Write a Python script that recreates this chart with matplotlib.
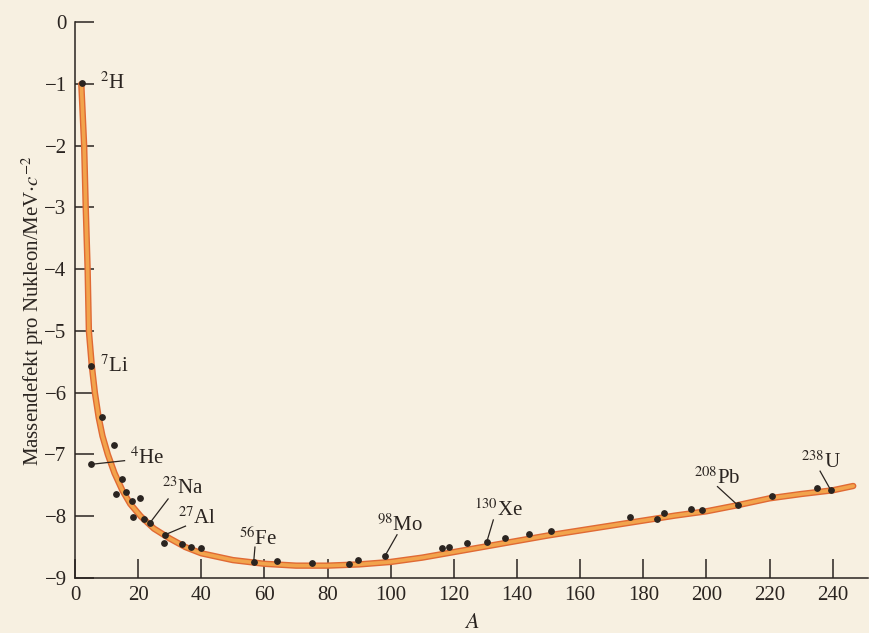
import matplotlib
matplotlib.use("Agg")
import matplotlib.pyplot as plt

plt.rcParams['font.family'] = ['Liberation Serif', 'DejaVu Serif']
plt.rcParams['mathtext.fontset'] = 'stix'

# Measured nuclides (A, mass defect per nucleon in MeV/c^2)
point_A = [2.2, 5.0, 8.5, 12.4, 5.0, 15.0, 12.9, 16.1, 18.0, 20.6, 18.4, 21.7, 23.7,
           28.5, 28.2, 34.0, 36.6, 40.0, 56.6, 63.9, 75.2, 86.8, 89.7, 98.1, 116.2,
           118.4, 124.2, 130.4, 136.2, 143.9, 150.7, 175.7, 184.5, 186.6, 195.0,
           198.5, 209.9, 220.8, 235.0, 239.3]
point_dm = [-0.99, -5.57, -6.40, -6.84, -7.16, -7.39, -7.64, -7.61, -7.75, -7.71, -8.02,
            -8.04, -8.11, -8.30, -8.43, -8.45, -8.50, -8.51, -8.74, -8.73, -8.76, -8.78,
            -8.71, -8.65, -8.51, -8.50, -8.43, -8.42, -8.35, -8.29, -8.24, -8.02, -8.04,
            -7.95, -7.89, -7.90, -7.82, -7.67, -7.55, -7.57]

# Smooth fitted curve
curve_A = [2.0, 2.9, 3.4, 4.0, 4.4, 5.3, 6.3, 7.5, 8.7, 10.4, 12.5, 15.0, 17.5, 20.8,
           25, 30, 35, 40, 50, 60, 70, 80, 90, 100, 110, 120, 130, 140, 150, 160,
           170, 180, 190, 200, 210, 220, 230, 240, 246.5]
curve_dm = [-1.0, -2.0, -3.0, -4.0, -5.0, -5.55, -6.0, -6.4, -6.7, -7.0, -7.3, -7.58,
            -7.8, -8.0, -8.2, -8.36, -8.5, -8.6, -8.71, -8.77, -8.80, -8.80, -8.78,
            -8.74, -8.67, -8.58, -8.49, -8.40, -8.31, -8.23, -8.15, -8.07, -7.99,
            -7.92, -7.82, -7.71, -7.64, -7.58, -7.51]

# Labelled nuclides: text, point (A, dm), text position (A, dm), leader line end (A, dm)
label_text = ['$^{2}$H', '$^{7}$Li', '$^{4}$He', '$^{23}$Na', '$^{27}$Al', '$^{56}$Fe',
              '$^{98}$Mo', '$^{130}$Xe', '$^{208}$Pb', '$^{238}$U']
label_pt_A = [2.2, 5.0, 5.0, 23.7, 28.5, 56.6, 98.1, 130.4, 209.9, 239.3]
label_pt_dm = [-0.99, -5.57, -7.16, -8.11, -8.30, -8.74, -8.65, -8.42, -7.82, -7.57]
label_txt_A = [8.0, 8.0, 17.5, 27.5, 32.5, 52.0, 95.5, 126.5, 196.0, 230.0]
label_txt_dm = [-0.99, -5.57, -7.06, -7.54, -8.03, -8.36, -8.15, -7.90, -7.38, -7.13]
label_end_A = [None, None, 15.7, 29.5, 35.0, 57.0, 102.0, 132.5, 203.5, 236.0]
label_end_dm = [None, None, -7.10, -7.72, -8.16, -8.50, -8.30, -8.06, -7.52, -7.27]

bg = '#f7f0e1'
ink = '#2a2420'
fig = plt.figure(figsize=(8.69, 6.33), dpi=100, facecolor=bg)
ax = fig.add_axes([0.0863, 0.0869, 0.913, 0.878], facecolor=bg)

ax.plot(curve_A, curve_dm, color='#e06a34', lw=4.6, solid_capstyle='round', zorder=2)
ax.plot(curve_A, curve_dm, color='#f2a44c', lw=2.6, solid_capstyle='round', zorder=3)
ax.scatter(point_A, point_dm, s=15, color=ink, zorder=4)

for t, pa, pd, ta, td, ea, ed in zip(label_text, label_pt_A, label_pt_dm, label_txt_A,
                                     label_txt_dm, label_end_A, label_end_dm):
    ax.text(ta, td, t, fontsize=15, color=ink, ha='left', va='center', zorder=5)
    if ea is not None:
        ax.plot([pa, ea], [pd, ed], color=ink, lw=0.9, zorder=4)

ax.set_xlim(0, 251.3)
ax.set_ylim(-9, 0)
ax.set_xticks(range(0, 241, 20))
ax.set_yticks(range(-9, 1))
ax.set_yticklabels(['\u22129', '\u22128', '\u22127', '\u22126', '\u22125', '\u22124',
                    '\u22123', '\u22122', '\u22121', '0'])
for s in ['top', 'right']:
    ax.spines[s].set_visible(False)
for s in ['left', 'bottom']:
    ax.spines[s].set_color(ink)
    ax.spines[s].set_linewidth(1.1)
ax.tick_params(direction='in', length=14, width=1.1, colors=ink, labelsize=15, pad=6)
ax.set_ylabel('Massendefekt pro Nukleon/MeV$\\cdot c^{-2}$', fontsize=15, color=ink)
ax.yaxis.set_label_coords(-0.037, 0.48)
ax.set_xlabel('$A$', fontsize=16, color=ink, labelpad=6)

fig.savefig('out.png', dpi=100, facecolor=bg)
